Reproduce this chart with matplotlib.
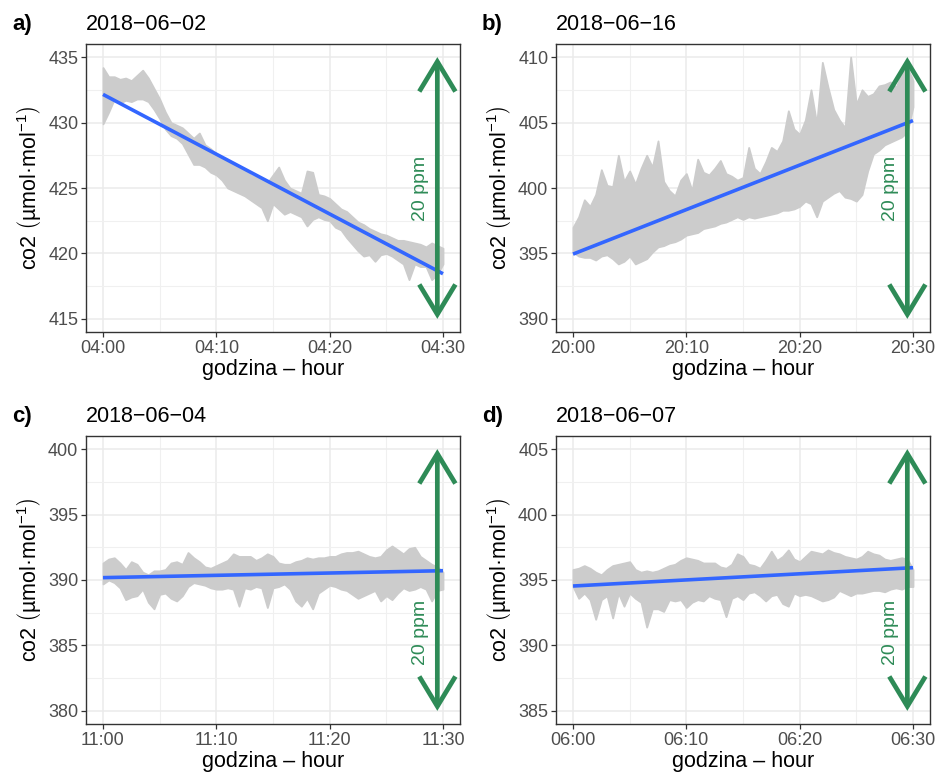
import numpy as np
import matplotlib
matplotlib.use("Agg")
import matplotlib.pyplot as plt
import matplotlib.transforms as mtransforms
from matplotlib.patches import ArrowStyle

plt.rcParams['font.family'] = ['Liberation Sans', 'DejaVu Sans']
plt.rcParams['mathtext.fontset'] = 'custom'
plt.rcParams['mathtext.rm'] = 'Liberation Sans'
plt.rcParams['mathtext.it'] = 'Liberation Sans:italic'
plt.rcParams['mathtext.bf'] = 'Liberation Sans:bold'

# ---------------- data ----------------
panel_letters = ['a)', 'b)', 'c)', 'd)']
panel_dates = ['2018\u221206\u221202', '2018\u221206\u221216',
               '2018\u221206\u221204', '2018\u221206\u221207']
x_ticks = [0, 10, 20, 30]
x_ticklabels = [['04:00', '04:10', '04:20', '04:30'],
                ['20:00', '20:10', '20:20', '20:30'],
                ['11:00', '11:10', '11:20', '11:30'],
                ['06:00', '06:10', '06:20', '06:30']]
y_ticks = [[415, 420, 425, 430, 435],
           [390, 395, 400, 405, 410],
           [380, 385, 390, 395, 400],
           [385, 390, 395, 400, 405]]

# minutes after the start of each half-hour window (sampling every 30 s)
minutes = np.arange(0, 30.5, 0.5)

# upper / lower envelope of the 1-s CO2 records
hi_a = [434.2, 433.5, 433.5, 433.3, 433.4, 433.2, 433.6, 434.0, 433.4, 432.6,
        431.8, 430.8, 430.0, 429.8, 429.6, 429.2, 428.8, 429.2, 428.3, 428.0,
        427.6, 427.3, 427.0, 426.8, 426.5, 426.4, 426.0, 425.8, 425.6, 425.4,
        426.0, 426.6, 425.6, 425.0, 424.8, 424.6, 426.3, 426.2, 424.5, 424.4,
        424.2, 423.8, 423.4, 423.2, 422.8, 422.4, 422.2, 421.9, 421.7, 421.5,
        421.4, 421.2, 421.0, 421.0, 420.9, 420.8, 420.7, 420.5, 420.8, 420.6,
        420.4]
lo_a = [429.9, 430.8, 431.8, 431.5, 431.7, 431.6, 431.8, 431.8, 431.6, 431.0,
        430.3, 429.5, 429.0, 428.8, 428.4, 427.6, 426.8, 426.8, 426.6, 426.2,
        426.0, 425.6, 425.0, 424.8, 424.6, 424.4, 424.1, 423.8, 423.5, 422.5,
        423.8, 423.4, 423.0, 423.2, 423.0, 422.8, 422.1, 422.6, 422.8, 422.6,
        422.5, 422.0, 421.8, 421.2, 420.7, 420.2, 419.8, 419.9, 419.4, 419.9,
        420.0, 419.8, 419.5, 419.2, 418.0, 419.2, 419.0, 419.0, 418.0, 418.4,
        419.2]

hi_b = [397.0, 397.8, 399.1, 398.6, 399.5, 401.4, 400.2, 400.1, 402.5, 400.5,
        401.3, 400.3, 401.5, 402.5, 401.6, 403.6, 400.5, 399.8, 399.4, 400.6,
        401.1, 399.8, 402.2, 401.2, 401.0, 401.5, 402.1, 401.1, 400.9, 400.6,
        400.8, 403.1, 401.5, 401.1, 402.0, 403.1, 402.8, 403.6, 405.9, 404.5,
        404.1, 405.2, 407.5, 404.9, 409.6, 407.7, 406.0, 405.2, 404.6, 410.0,
        406.4, 407.5, 407.0, 407.2, 407.8, 407.9, 408.1, 407.7, 408.7, 409.2,
        408.2]
lo_b = [395.1, 394.8, 394.7, 394.7, 394.5, 394.8, 394.9, 394.6, 394.2, 394.4,
        394.8, 394.2, 394.4, 394.6, 395.1, 395.5, 395.6, 395.8, 395.9, 396.1,
        396.4, 396.5, 396.6, 396.9, 397.0, 397.1, 397.3, 397.4, 397.6, 397.8,
        397.6, 397.8, 397.7, 397.8, 397.9, 398.0, 398.1, 398.3, 398.3, 398.4,
        398.6, 399.0, 398.8, 397.8, 399.0, 399.3, 399.6, 399.8, 399.3, 399.2,
        399.0, 399.5, 401.3, 402.6, 402.9, 403.3, 403.5, 403.7, 403.9, 404.3,
        406.2]

hi_c = [391.3, 391.6, 391.7, 391.3, 390.8, 391.4, 391.2, 390.6, 390.4, 390.7,
        390.7, 390.8, 391.3, 391.4, 391.2, 392.1, 391.7, 391.4, 391.0, 390.9,
        391.1, 391.3, 391.5, 392.0, 391.8, 391.8, 391.8, 391.5, 391.7, 392.0,
        391.8, 391.3, 391.2, 391.2, 391.4, 391.5, 391.7, 391.6, 391.7, 391.7,
        391.8, 391.8, 392.0, 392.1, 392.1, 392.2, 392.0, 391.8, 391.7, 391.8,
        392.3, 392.6, 392.3, 392.0, 392.4, 392.5, 391.8, 391.5, 391.2, 391.0,
        390.6]
lo_c = [389.7, 390.0, 389.8, 389.4, 388.5, 388.7, 388.8, 389.3, 388.3, 387.8,
        388.9, 389.0, 388.6, 388.4, 388.8, 389.5, 389.8, 389.7, 389.6, 389.4,
        389.3, 389.3, 389.4, 389.3, 388.0, 389.4, 389.3, 389.5, 389.4, 387.9,
        389.4, 389.5, 389.7, 389.3, 388.4, 388.0, 388.6, 387.8, 389.0, 389.3,
        389.6, 389.5, 389.3, 389.2, 388.9, 388.6, 388.8, 389.0, 389.2, 388.4,
        388.8, 388.5, 389.0, 389.4, 389.2, 389.3, 389.5, 389.3, 388.4, 389.2,
        389.3]

hi_d = [395.8, 395.9, 396.1, 395.9, 395.6, 395.4, 395.8, 396.1, 396.2, 396.3,
        396.4, 395.8, 395.6, 395.7, 395.6, 395.7, 395.9, 396.1, 396.2, 396.5,
        396.7, 396.6, 396.5, 396.3, 396.3, 396.3, 396.0, 395.9, 396.2, 397.0,
        396.8, 396.2, 396.1, 395.9, 396.5, 397.2, 396.5, 396.8, 397.3, 396.6,
        396.4, 396.8, 397.2, 397.1, 397.0, 397.3, 397.1, 397.0, 396.8, 396.7,
        396.6, 396.8, 397.2, 397.0, 396.9, 396.6, 396.5, 396.6, 396.7, 396.6,
        395.8]
lo_d = [394.5, 393.6, 394.0, 393.5, 392.0, 393.5, 393.8, 392.1, 394.0, 393.0,
        394.0, 393.6, 393.3, 391.4, 392.8, 392.8, 392.6, 393.5, 393.4, 393.5,
        392.9, 393.3, 393.5, 393.4, 393.8, 393.6, 393.5, 392.2, 393.6, 393.8,
        393.5, 394.0, 394.1, 393.8, 393.4, 393.8, 393.9, 393.2, 393.0, 394.0,
        393.8, 393.9, 393.8, 393.6, 393.4, 393.5, 393.7, 394.2, 394.0, 393.8,
        394.0, 394.0, 394.1, 394.2, 394.2, 394.1, 394.3, 394.4, 394.3, 394.5,
        394.5]

hi_all = [hi_a, hi_b, hi_c, hi_d]
lo_all = [lo_a, lo_b, lo_c, lo_d]

# linear trend (geom_smooth, method = lm) at start and end of the window
fit_start = [432.15, 394.95, 390.18, 394.54]
fit_end = [418.45, 405.15, 390.71, 395.94]

# 20 ppm scale arrow
arrow_lo = [415, 390, 380, 385]
arrow_hi = [435, 410, 400, 405]
arrow_x = 29.5
label_x = 28.0
label_y = [425, 400, 386, 391]

# ---------------- style ----------------
GREEN = '#2E8B57'
BLUE = '#3366FF'
GREY = '#CCCCCC'
W, H = 937, 775
fig = plt.figure(figsize=(W / 100, H / 100), dpi=100)

lefts = [86, 556, 86, 556]
tops = [44, 44, 436, 436]
aw, ah = 374, 288

for i in range(4):
    l, t = lefts[i], tops[i]
    ax = fig.add_axes([l / W, 1 - (t + ah) / H, aw / W, ah / H])
    ax.set_facecolor('white')

    ax.fill_between(minutes, lo_all[i], hi_all[i], color=GREY, lw=1.3,
                    edgecolor=GREY, zorder=2)
    ax.plot([minutes[0], minutes[-1]], [fit_start[i], fit_end[i]],
            color=BLUE, lw=2.6, zorder=3, solid_capstyle='butt')

    style = ArrowStyle('<->', head_length=21.5, head_width=13)
    ax.annotate('', xy=(arrow_x, arrow_hi[i]), xytext=(arrow_x, arrow_lo[i]),
                arrowprops=dict(arrowstyle=style, mutation_scale=1,
                                color=GREEN, lw=3.4, shrinkA=0, shrinkB=0,
                                joinstyle='miter', capstyle='butt'),
                zorder=4)
    ax.text(label_x, label_y[i], '20 ppm', rotation=90, color=GREEN,
            fontsize=14, ha='center', va='center', zorder=4)

    ax.set_xlim(-1.5, 31.5)
    ax.set_ylim(arrow_lo[i] - 1, arrow_hi[i] + 1)
    ax.set_xticks(x_ticks)
    ax.set_xticklabels(x_ticklabels[i])
    ax.set_xticks([5, 15, 25], minor=True)
    yt = y_ticks[i]
    ax.set_yticks(yt)
    ax.set_yticks([v + 2.5 for v in yt[:-1]], minor=True)
    ax.grid(which='major', color='#EBEBEB', lw=1.1, zorder=0)
    ax.grid(which='minor', color='#F0F0F0', lw=0.8, zorder=0)
    ax.set_axisbelow(True)
    ax.tick_params(which='major', direction='out', length=3.5, width=0.9,
                   color='#333333', labelsize=13, labelcolor='#4D4D4D', pad=2)
    ax.tick_params(which='minor', length=0)
    for sp in ax.spines.values():
        sp.set_color('#333333')
        sp.set_linewidth(1.0)

    ax.set_xlabel('godzina \u2013 hour', fontsize=15.5, color='black', labelpad=2)
    ax.set_ylabel(r'co2 $\left(\mathrm{µmol·mol^{-1}}\right)$', fontsize=15.5,
                  color='black', labelpad=4)

    tr = mtransforms.offset_copy(ax.transAxes, fig=fig, x=0, y=10, units='points')
    ax.text(0.0, 1.0, panel_dates[i], transform=tr, fontsize=15.5,
            ha='left', va='baseline', color='black')
    ax.text(-0.198, 1.0, panel_letters[i], transform=tr, fontsize=16,
            fontweight='bold', ha='left', va='baseline', color='black')

fig.savefig('out.png', dpi=100, facecolor='white')
